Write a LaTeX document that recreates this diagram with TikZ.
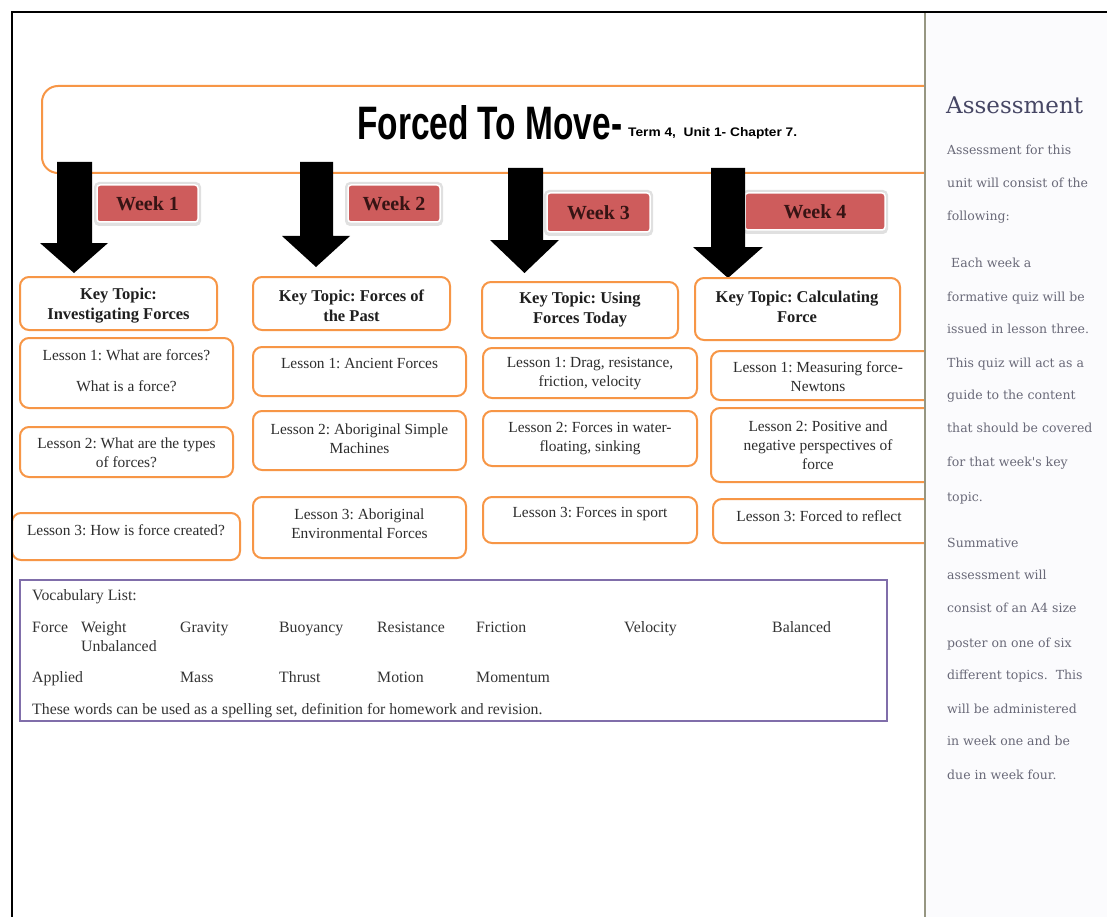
\documentclass[tikz,border=0pt]{standalone}
\usepackage{fontspec}
\usepackage{graphicx}
\setmainfont{Liberation Serif}
\newfontfamily\sidefont{DejaVu Serif}
\newfontfamily\headfont{Liberation Sans}
\usetikzlibrary{fit}
\frenchspacing

\definecolor{boxorange}{RGB}{247,150,70}
\definecolor{weekred}{RGB}{206,92,92}
\definecolor{weektext}{RGB}{55,20,20}
\definecolor{vocabpurple}{RGB}{128,110,170}
\definecolor{lessontext}{RGB}{45,45,45}
\definecolor{sideline}{RGB}{150,150,130}
\definecolor{sidefill}{RGB}{251,251,253}
\definecolor{sidehead}{RGB}{70,70,100}
\definecolor{sidetext}{RGB}{105,105,120}

\tikzset{
  card/.style={draw=boxorange, line width=2pt, rounded corners=9pt, fill=white, inner sep=0pt},
  weekbox/.style={fill=weekred, draw=white, line width=1.5pt, rounded corners=3pt, inner sep=0pt},
  weekglow/.style={fill=black!12, rounded corners=5pt},
  weektxt/.style={font=\fontsize{20}{22}\selectfont\bfseries, text=weektext, inner sep=0pt},
  ktext/.style={font=\fontsize{16.5}{20}\selectfont\bfseries, text=black!88, align=center, inner sep=0pt},
  ltext/.style={font=\fontsize{15.4}{19}\selectfont, text=lessontext, align=center, inner sep=0pt},
  vtext/.style={font=\fontsize{15.8}{18}\selectfont, text=black!80, anchor=base west, inner sep=0pt},
  sidetxt/.style={font=\sidefont\fontsize{12.5}{15}\selectfont, text=sidetext, anchor=base west, inner sep=0pt},
  bigarrow/.style={fill=black}
}

% block arrow: shaft left, shaft right, top, head base, head left, head right, tip
\newcommand\blockarrow[7]{%
  \fill[bigarrow] (#1,#3) -- (#2,#3) -- (#2,#4) -- (#6,#4) -- ({(#5+#6)/2},#7)
    -- (#5,#4) -- (#1,#4) -- cycle;}

% rounded card spanning two corners
\newcommand\card[5]{\node[card, fit={(#2,#3) (#4,#5)}] (#1) {};}

% week label with a soft rim
\newcommand\weeklabel[6]{%
  \fill[weekglow] (#2-3,#3-3) rectangle (#4+3,#5+4);
  \node[weekbox, fit={(#2,#3) (#4,#5)}] (#1) {};
  \node[weektxt] (#1-t) at (#1.center) {#6};}

\begin{document}
\begin{tikzpicture}[x=1pt, y=-1pt]
\useasboundingbox (0,0) rectangle (1107,917);
\fill[white] (0,0) rectangle (1107,917);

% banner
\node[card, rounded corners=16pt, fit={(42,86) (970,173)}] (banner) {};
\node[inner sep=0pt, anchor=base west] (title) at (357,140)
  {\resizebox{265pt}{34pt}{\headfont\bfseries Forced To Move-}};
\node[inner sep=0pt, anchor=base west] (subtitle) at (628,137)
  {\resizebox{169pt}{9pt}{\headfont\bfseries Term 4,\ \ Unit 1- Chapter 7.}};

% week labels
\weeklabel{w1}{97}{185}{198}{222}{Week 1}
\weeklabel{w2}{348}{185}{440}{222}{Week 2}
\weeklabel{w3}{547}{193}{650}{232}{Week 3}
\weeklabel{w4}{745}{193}{885}{230}{Week 4}

% arrows from the banner down to each key topic
\blockarrow{57}{92}{162}{243}{40}{108}{273}
\blockarrow{300}{333}{162}{236}{282}{350}{267}
\blockarrow{508}{543}{168}{240}{490}{559}{273}
\blockarrow{711}{745}{168}{247}{693}{763}{278}

% key topics
\card{kt1}{20}{277}{217}{330}
\node[ktext] (kt1-t) at (118.5,306) {Key Topic:\\Investigating Forces};
\card{kt2}{253}{277}{450}{330}
\node[ktext] (kt2-t) at (351.5,306) {Key Topic: Forces of\\the Past};
\card{kt3}{482}{282}{678}{338}
\node[ktext] (kt3-t) at (580,310) {Key Topic: Using\\Forces Today};
\card{kt4}{695}{278}{900}{340}
\node[ktext] (kt4-t) at (797,307) {Key Topic: Calculating\\Force};

% week 1 lessons
\card{a1}{20}{338}{233}{408}
\node[ltext] (a1-t) at (126.5,371) {Lesson 1: What are forces?\\[12pt]What is a force?};
\card{a2}{20}{427}{233}{477}
\node[ltext] (a2-t) at (126.5,453) {Lesson 2: What are the types\\of forces?};
\card{a3}{12}{513}{240}{560}
\node[ltext] (a3-t) at (126,530) {Lesson 3: How is force created?};

% week 2 lessons
\card{b1}{253}{347}{466}{396}
\node[ltext] (b1-t) at (359.5,364) {Lesson 1: Ancient Forces};
\card{b2}{253}{411}{466}{470}
\node[ltext] (b2-t) at (359.5,438.5) {Lesson 2: Aboriginal Simple\\Machines};
\card{b3}{253}{497}{466}{558}
\node[ltext] (b3-t) at (359.5,524) {Lesson 3: Aboriginal\\Environmental Forces};

% week 3 lessons
\card{c1}{483}{348}{697}{398}
\node[ltext] (c1-t) at (590,374) {Lesson 1: Drag, resistance,\\friction, velocity};
\card{c2}{483}{411}{697}{466}
\node[ltext] (c2-t) at (590,438.5) {Lesson 2: Forces in water-\\floating, sinking};
\card{c3}{483}{497}{697}{543}
\node[ltext] (c3-t) at (590,514) {Lesson 3: Forces in sport};

% week 4 lessons
\card{d1}{711}{351}{940}{400}
\node[ltext] (d1-t) at (818,376.5) {Lesson 1: Measuring force-\\Newtons};
\card{d2}{711}{408}{940}{482}
\node[ltext] (d2-t) at (818,445.5) {Lesson 2: Positive and\\negative perspectives of\\force};
\card{d3}{713}{499}{940}{543}
\node[ltext] (d3-t) at (819,516) {Lesson 3: Forced to reflect};

% vocabulary
\node[draw=vocabpurple, line width=2pt, inner sep=0pt, fit={(20,580) (887,721)}] (vocab) {};
\node[vtext] (v0) at (32,600) {Vocabulary List:};
\foreach \w/\xx/\yy [count=\i] in {Force/32/632, Weight/81/632, Gravity/180/632,
    Buoyancy/279/632, Resistance/377/632, Friction/476/632, Velocity/624/632,
    Balanced/772/632, Unbalanced/81/651, Applied/32/682, Mass/180/682,
    Thrust/279/682, Motion/377/682, Momentum/476/682}
  \node[vtext] (v\i) at (\xx,\yy) {\w};
\node[vtext] (vnote) at (32,714) {These words can be used as a spelling set, definition for homework and revision.};

% frame
\draw[line width=2pt] (12,917) -- (12,12) -- (1107,12);

% assessment sidebar
\fill[sidefill] (925,13) rectangle (1107,917);
\draw[sideline, line width=1.5pt] (925,13) -- (925,917);
\node[font=\sidefont\fontsize{23}{26}\selectfont, text=sidehead, anchor=base west, inner sep=0pt]
  (side-head) at (946,114) {Assessment};
\foreach \t/\xx/\yy [count=\i] in {Assessment for this/947/155, unit will consist of the/947/188,
    following:/947/221, Each week a/951/267, formative quiz will be/947/301,
    issued in lesson three./947/333, This quiz will act as a/947/367,
    guide to the content/947/399, that should be covered/947/432,
    for that week's key/947/466, topic./947/501, Summative/947/547,
    assessment will/947/579, consist of an A4 size/947/612,
    poster on one of six/947/647, different topics.\ \ This/947/679,
    will be administered/947/713, in week one and be/947/745, due in week four./947/779}
  \node[sidetxt] (side\i) at (\xx,\yy) {\t};
\end{tikzpicture}
\end{document}
